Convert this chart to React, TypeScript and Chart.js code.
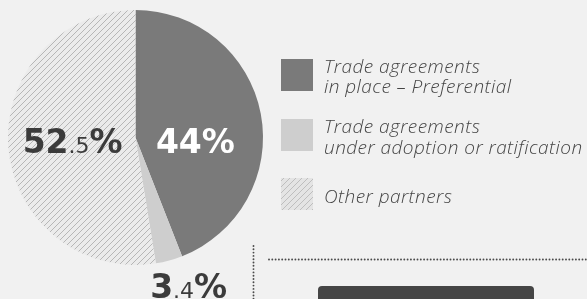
import React, { useEffect, useRef } from "react";
import { Chart, registerables } from "chart.js";

Chart.register(...registerables);

const categories = [
  "Trade agreements in place – Preferential",
  "Trade agreements under adoption or ratification",
  "Other partners",
];
const shares = [44, 3.4, 52.5];
const legendLines = [
  ["Trade agreements", "in place – Preferential"],
  ["Trade agreements", "under adoption or ratification"],
  ["Other partners"],
];

const BG = "#f1f1f1";
const DARK = "#7a7a7a";
const LIGHT = "#cecece";

function makeHatch(ctx: CanvasRenderingContext2D, base: string, line: string) {
  const size = 6;
  const c = document.createElement("canvas");
  c.width = size;
  c.height = size;
  const g = c.getContext("2d")!;
  g.fillStyle = base;
  g.fillRect(0, 0, size, size);
  g.strokeStyle = line;
  g.lineWidth = 0.9;
  g.beginPath();
  g.moveTo(0, size);
  g.lineTo(size, 0);
  g.moveTo(-size / 2, size / 2);
  g.lineTo(size / 2, -size / 2);
  g.moveTo(size / 2, size * 1.5);
  g.lineTo(size * 1.5, size / 2);
  g.stroke();
  return ctx.createPattern(c, "repeat")!;
}

function drawParts(
  ctx: CanvasRenderingContext2D,
  parts: { t: string; font: string }[],
  x: number,
  y: number,
  color: string
) {
  ctx.fillStyle = color;
  ctx.textBaseline = "alphabetic";
  ctx.textAlign = "left";
  let cx = x;
  for (const p of parts) {
    ctx.font = p.font;
    ctx.fillText(p.t, cx, y);
    cx += ctx.measureText(p.t).width;
  }
}

const overlay = {
  id: "overlay",
  beforeDraw(chart: any) {
    const ctx = chart.ctx as CanvasRenderingContext2D;
    ctx.save();
    ctx.fillStyle = BG;
    ctx.fillRect(0, 0, chart.width, chart.height);
    ctx.restore();
  },
  afterDraw(chart: any) {
    const ctx = chart.ctx as CanvasRenderingContext2D;
    const arc = chart.getDatasetMeta(0).data[0];
    const cx = arc.x;
    const cy = arc.y;
    const r = arc.outerRadius;
    ctx.save();
    const B = "bold 33px 'DejaVu Sans'";
    const S = "22px 'DejaVu Sans'";
    // 44%
    drawParts(ctx, [{ t: `${shares[0]}%`, font: B }], cx + 0.16 * r, cy + 0.12 * r, "#ffffff");
    // 52.5%
    const [a, b] = String(shares[2]).split(".");
    drawParts(
      ctx,
      [
        { t: a, font: B },
        { t: "." + b, font: S },
        { t: "%", font: B },
      ],
      cx - 0.885 * r,
      cy + 0.12 * r,
      "#3b3b3b"
    );
    // 3.4%
    const [c, d] = String(shares[1]).split(".");
    drawParts(
      ctx,
      [
        { t: c, font: B },
        { t: "." + d, font: S },
        { t: "%", font: B },
      ],
      cx + 0.115 * r,
      cy + 1.255 * r,
      "#3b3b3b"
    );

    // legend
    const fills = [DARK, LIGHT, makeHatch(ctx, "#e4e4e4", "#b9b9b9")];
    const boxTops = [59, 119, 178];
    const baselines = [
      [73, 93],
      [133, 154],
      [203],
    ];
    (ctx as any).letterSpacing = "0.45px";
    legendLines.forEach((lines, i) => {
      ctx.fillStyle = fills[i] as any;
      ctx.fillRect(281, boxTops[i], 32, 32);
      ctx.fillStyle = "#444444";
      ctx.font = "italic 300 19px 'Open Sans'";
      lines.forEach((ln, j) => ctx.fillText(ln, 324, baselines[i][j]));
    });
    (ctx as any).letterSpacing = "0px";

    // dotted lines
    ctx.fillStyle = "#4a4a4a";
    for (let y = 246; y < 299; y += 3.3) {
      ctx.beginPath();
      ctx.arc(253.5, y, 0.95, 0, Math.PI * 2);
      ctx.fill();
    }
    for (let x = 269; x < 587; x += 3.3) {
      ctx.beginPath();
      ctx.arc(x, 259.5, 0.95, 0, Math.PI * 2);
      ctx.fill();
    }
    // dark box
    ctx.fillStyle = "#454545";
    ctx.beginPath();
    (ctx as any).roundRect(318, 286, 216, 30, 4);
    ctx.fill();
    ctx.restore();
  },
};

export default function App() {
  const ref = useRef<HTMLCanvasElement>(null);
  useEffect(() => {
    document.body.style.margin = "0";
    document.body.style.background = BG;
    const canvas = ref.current!;
    const ctx = canvas.getContext("2d")!;
    const hatch = makeHatch(ctx, "#ebebeb", "#b0b0b0");
    const chart = new Chart(canvas, {
      type: "pie",
      data: {
        labels: categories,
        datasets: [
          {
            data: shares,
            backgroundColor: [DARK, LIGHT, hatch as any],
            borderWidth: 0,
          },
        ],
      },
      options: {
        animation: false,
        responsive: false,
        events: [],
        layout: { padding: { left: 8, top: 10, right: 324, bottom: 34 } },
        plugins: { legend: { display: false }, tooltip: { enabled: false } },
      },
      plugins: [overlay],
    });
    return () => chart.destroy();
  }, []);
  return (
    <div style={{ width: 587, height: 299 }}>
      <canvas ref={ref} width={587} height={299} style={{ display: "block" }} />
    </div>
  );
}
